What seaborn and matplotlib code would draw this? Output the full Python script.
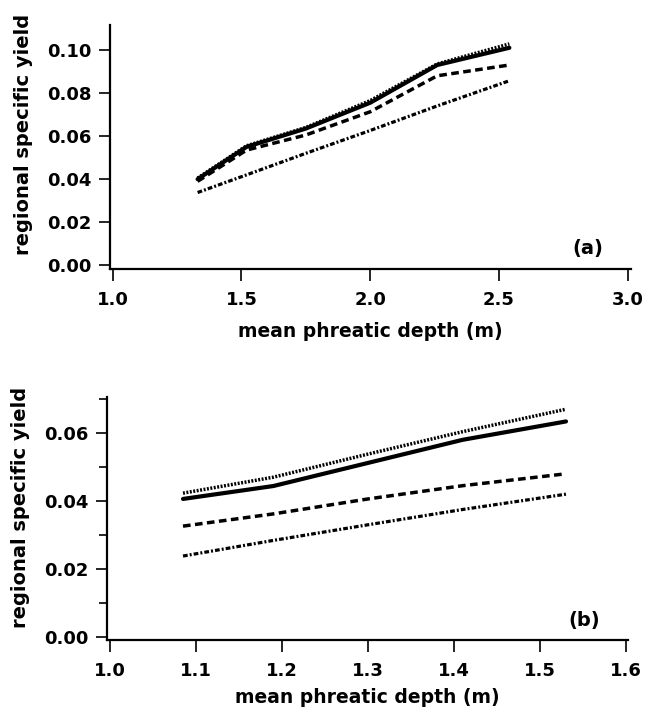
import matplotlib
matplotlib.use("Agg")
import matplotlib.pyplot as plt
from matplotlib.ticker import MultipleLocator
import seaborn as sns

# -----------------------
# data
# -----------------------
# panel (a)
depth_a = [1.33, 1.52, 1.75, 2.00, 2.26, 2.54]
solid_a = [0.0400, 0.0550, 0.0635, 0.0755, 0.0930, 0.1010]
dotted_a = [0.0405, 0.0555, 0.0640, 0.0765, 0.0935, 0.1028]
dashed_a = [0.0390, 0.0535, 0.0605, 0.0713, 0.0880, 0.0930]
dashdot_a = [0.0338, 0.0420, 0.0520, 0.0626, 0.0740, 0.0857]

# panel (b)
depth_b = [1.085, 1.19, 1.30, 1.41, 1.53]
solid_b = [0.0406, 0.0444, 0.0512, 0.0580, 0.0634]
dotted_b = [0.0423, 0.0470, 0.0538, 0.0604, 0.0670]
dashed_b = [0.0326, 0.0362, 0.0406, 0.0445, 0.0480]
dashdot_b = [0.0238, 0.0284, 0.0330, 0.0375, 0.0420]

xticks_a = [1.0, 1.5, 2.0, 2.5, 3.0]
yticks_a = [0.00, 0.02, 0.04, 0.06, 0.08, 0.10]
xticks_b = [1.0, 1.1, 1.2, 1.3, 1.4, 1.5, 1.6]
yticks_b = [0.00, 0.02, 0.04, 0.06]

sns.set_theme(style="ticks")
plt.rcParams['font.family'] = ['DejaVu Sans']
plt.rcParams['font.weight'] = 'bold'
plt.rcParams['text.color'] = 'black'
plt.rcParams['axes.labelcolor'] = 'black'
plt.rcParams['lines.scale_dashes'] = False

styles = {
    'solid': dict(linestyle='-', lw=3.0),
    'dotted': dict(linestyle=(0, (1.4, 1.1)), lw=2.5),
    'dashed': dict(linestyle=(0, (5.5, 3.2)), lw=2.5),
    'dashdot': dict(linestyle=(0, (3.4, 1.5, 1.4, 1.5)), lw=2.3),
}

fig = plt.figure(figsize=(6.54, 7.15), dpi=100)
ax_a = fig.add_axes([0.1682, 0.6238, 0.7966, 0.3413])
ax_b = fig.add_axes([0.1636, 0.1049, 0.7966, 0.3399])


def draw_panel(ax, x, series, xticks, yticks, xlim, ylim, tag, tag_xy, ylabel_y, xlabel_y):
    for name, y in series.items():
        sns.lineplot(x=x, y=y, ax=ax, color='black', legend=False, **styles[name])
    ax.set_xlim(*xlim)
    ax.set_ylim(*ylim)
    ax.set_xticks(xticks)
    ax.set_yticks(yticks)
    ax.set_xticklabels([f"{v:.1f}" for v in xticks])
    ax.set_yticklabels([f"{v:.2f}" for v in yticks])
    sns.despine(ax=ax)
    for s in ['left', 'bottom']:
        ax.spines[s].set_linewidth(1.6)
        ax.spines[s].set_color('black')
    ax.tick_params(axis='both', which='both', direction='out', width=1.2,
                   colors='black', labelsize=13)
    ax.tick_params(axis='y', which='major', length=8, pad=5)
    ax.tick_params(axis='x', which='major', length=8.5, pad=7)
    for lab in ax.get_xticklabels() + ax.get_yticklabels():
        lab.set_fontweight('bold')
    ax.set_xlabel('mean phreatic depth (m)', fontsize=13.5, fontweight='bold')
    ax.set_ylabel('regional specific yield', fontsize=14, fontweight='bold')
    ax.xaxis.set_label_coords(0.5, xlabel_y)
    ax.yaxis.set_label_coords(-0.148, ylabel_y)
    ax.text(tag_xy[0], tag_xy[1], tag, ha='center', va='center',
            fontsize=14, fontweight='bold')


draw_panel(ax_a, depth_a,
           {'dashdot': dashdot_a, 'dashed': dashed_a, 'dotted': dotted_a, 'solid': solid_a},
           xticks_a, yticks_a, (0.99, 3.012), (-0.0017, 0.1116),
           '(a)', (2.844, 0.0079), 0.55, -0.218)

draw_panel(ax_b, depth_b,
           {'dashdot': dashdot_b, 'dashed': dashed_b, 'dotted': dotted_b, 'solid': solid_b},
           xticks_b, yticks_b, (0.9967, 1.602), (-0.0009, 0.0706),
           '(b)', (1.551, 0.0047), 0.545, -0.198)
ax_b.yaxis.set_minor_locator(MultipleLocator(0.01))
ax_b.tick_params(axis='y', which='minor', length=6, width=1.2, colors='black')

fig.savefig('out.png', dpi=100, facecolor='white')
